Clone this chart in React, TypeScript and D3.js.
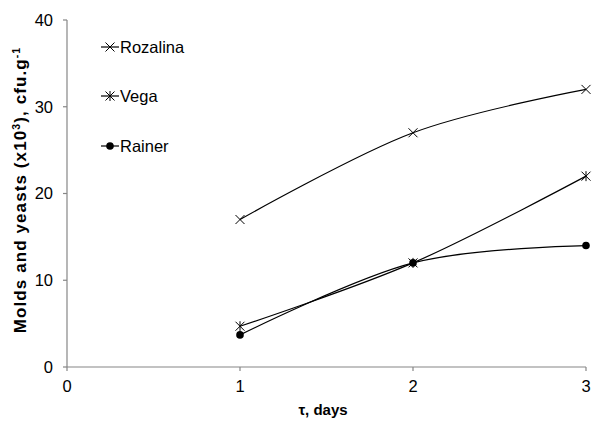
import React from "react";
import * as d3 from "d3";

const days = [1, 2, 3];
const rozalina = [17, 27, 32];
const vega = [4.7, 12, 22];
const rainer = [3.7, 12, 14];
const seriesNames = ["Rozalina", "Vega", "Rainer"];
const xTicks = [0, 1, 2, 3];
const yTicks = [0, 10, 20, 30, 40];

const W = 602, H = 421;
const left = 67, right = 586, top = 20, bottom = 367;

const FONT = "Liberation Sans, Arial, sans-serif";

function Marker({ kind, x, y }: { kind: string; x: number; y: number }) {
  const s = 4.5;
  if (kind === "Rainer") return <circle cx={x} cy={y} r={3.8} fill="#000" />;
  const lines = [
    <line key="a" x1={x - s} y1={y - s} x2={x + s} y2={y + s} stroke="#000" strokeWidth={1} />,
    <line key="b" x1={x - s} y1={y + s} x2={x + s} y2={y - s} stroke="#000" strokeWidth={1} />,
  ];
  if (kind === "Vega")
    lines.push(<line key="c" x1={x} y1={y - s - 0.5} x2={x} y2={y + s + 0.5} stroke="#000" strokeWidth={1} />);
  return <g>{lines}</g>;
}

export default function App() {
  const x = d3.scaleLinear().domain([0, 3]).range([left, right]);
  const y = d3.scaleLinear().domain([0, 40]).range([bottom, top]);
  const line = d3
    .line<[number, number]>()
    .x((d) => x(d[0]))
    .y((d) => y(d[1]))
    .curve(d3.curveCardinal.tension(0));
  const series = [rozalina, vega, rainer];
  const axisColor = "#868686";
  const legendY = [47, 96, 146];

  return (
    <svg width={W} height={H} style={{ position: "absolute", left: 0, top: 0, background: "#fff" }} fontFamily={FONT}>
      <rect width={W} height={H} fill="#fff" />
      <line x1={left} y1={top} x2={left} y2={bottom} stroke={axisColor} strokeWidth={1.2} />
      <line x1={left} y1={bottom} x2={right} y2={bottom} stroke={axisColor} strokeWidth={1.2} />
      {yTicks.map((t) => (
        <g key={"y" + t}>
          <line x1={left - 4} x2={left} y1={y(t)} y2={y(t)} stroke={axisColor} strokeWidth={1.2} />
          <text x={left - 14} y={y(t)} dy="0.35em" textAnchor="end" fontSize={16.5} fill="#000">
            {t}
          </text>
        </g>
      ))}
      {xTicks.map((t) => (
        <g key={"x" + t}>
          <line x1={x(t)} x2={x(t)} y1={bottom} y2={bottom + 4} stroke={axisColor} strokeWidth={1.2} />
          <text x={x(t)} y={bottom + 25} textAnchor="middle" fontSize={16.5} fill="#000">
            {t}
          </text>
        </g>
      ))}
      <text x={323} y={bottom + 48} textAnchor="middle" fontSize={15} fontWeight="bold">
        τ, days
      </text>
      <text
        transform={`translate(26, 190) rotate(-90)`}
        textAnchor="middle"
        fontSize={17}
        fontWeight="bold"
        letterSpacing={1.1}
      >
        Molds and yeasts (x10<tspan dy="-6" fontSize={10.5}>3</tspan>
        <tspan dy="6">), cfu.g</tspan>
        <tspan dy="-6" fontSize={10.5}>-1</tspan>
      </text>
      {series.map((vals, i) => {
        const pts = days.map((d, j) => [d, vals[j]] as [number, number]);
        return (
          <g key={seriesNames[i]}>
            <path d={line(pts) || ""} fill="none" stroke="#000" strokeWidth={1.2} />
            {pts.map((p, j) => (
              <Marker key={j} kind={seriesNames[i]} x={x(p[0])} y={y(p[1])} />
            ))}
          </g>
        );
      })}
      {seriesNames.map((n, i) => (
        <g key={"l" + n}>
          <line x1={101} x2={119} y1={legendY[i]} y2={legendY[i]} stroke="#000" strokeWidth={1.2} />
          <Marker kind={n} x={110} y={legendY[i]} />
          <text x={120} y={legendY[i]} dy="0.35em" fontSize={16.5}>
            {n}
          </text>
        </g>
      ))}
    </svg>
  );
}
